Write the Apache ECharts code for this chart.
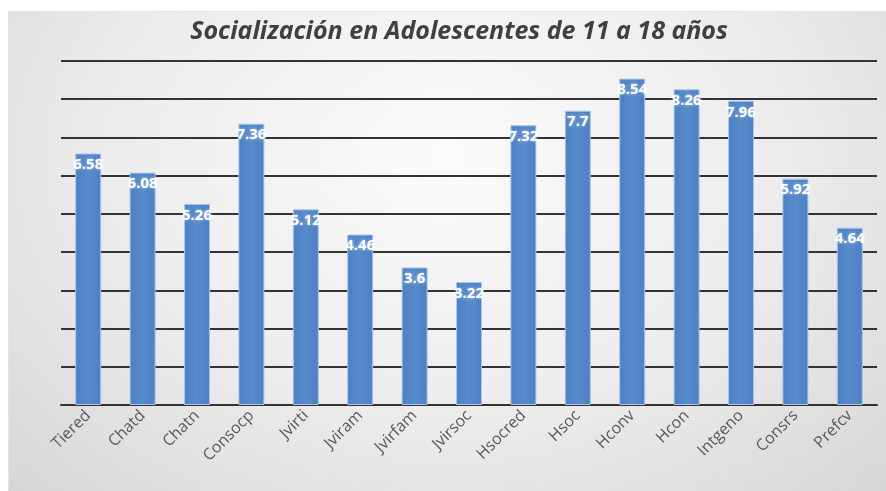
<!DOCTYPE html>
<html><head><meta charset="utf-8">
<script src="https://cdn.jsdelivr.net/npm/echarts@6/dist/echarts.min.js"></script>
<style>
html,body{margin:0;padding:0;background:#fff;}
#bg{position:absolute;left:8px;top:11px;width:878px;height:480px;
background:radial-gradient(ellipse at 50% 30%, #fbfbfb 0%, #ececec 55%, #d6d6d6 100%);
border-top:1px solid #e4e4e4;border-left:1px solid #e4e4e4;box-sizing:border-box;}
#chart{position:absolute;left:0;top:0;width:886px;height:491px;}
</style></head>
<body><div id="bg"></div><div id="chart"></div>
<script>
const titleText = 'Socialización en Adolescentes de 11 a 18 años';
const categories = ['Tiered','Chatd','Chatn','Consocp','Jvirti','Jviram','Jvirfam','Jvirsoc','Hsocred','Hsoc','Hconv','Hcon','Intgeno','Consrs','Prefcv'];
const values = [6.58, 6.08, 5.26, 7.36, 5.12, 4.46, 3.6, 3.22, 7.32, 7.7, 8.54, 8.26, 7.96, 5.92, 4.64];

const chart = echarts.init(document.getElementById('chart'));
chart.setOption({
  backgroundColor: 'transparent',
  animation: false,
  title: {
    text: titleText, left: 454, top: 14, textAlign: 'center',
    textStyle: { fontFamily: 'Open Sans', fontStyle: 'italic', fontWeight: 'bold', fontSize: 25, color: '#404040' }
  },
  grid: { left: 61, right: 9, top: 61, bottom: 86 },
  xAxis: {
    type: 'category', data: categories,
    axisTick: { show: false },
    axisLine: { show: true, lineStyle: { color: '#333', width: 2 } },
    axisLabel: { rotate: 45, interval: 0, fontFamily: 'Open Sans', fontSize: 16, color: '#595959', margin: 8 }
  },
  yAxis: {
    type: 'value', min: 0, max: 9, interval: 1,
    axisLabel: { show: false }, axisLine: { show: false }, axisTick: { show: false },
    splitLine: { lineStyle: { color: '#333', width: 2 } }
  },
  series: [{
    type: 'bar', data: values, barWidth: 26,
    itemStyle: {
      color: new echarts.graphic.LinearGradient(0, 0, 1, 0, [
        { offset: 0, color: '#4d80c2' }, { offset: 0.5, color: '#588bcc' }, { offset: 1, color: '#4d80c2' }
      ]),
      borderColor: '#a9c6e8', borderWidth: 1
    },
    label: {
      show: true, position: 'insideTop', distance: 4,
      fontFamily: 'Open Sans', fontWeight: 'bold', fontSize: 15, color: '#fff',
      textShadowColor: 'rgba(255,255,255,0.6)', textShadowBlur: 3
    }
  }]
});
</script></body></html>
